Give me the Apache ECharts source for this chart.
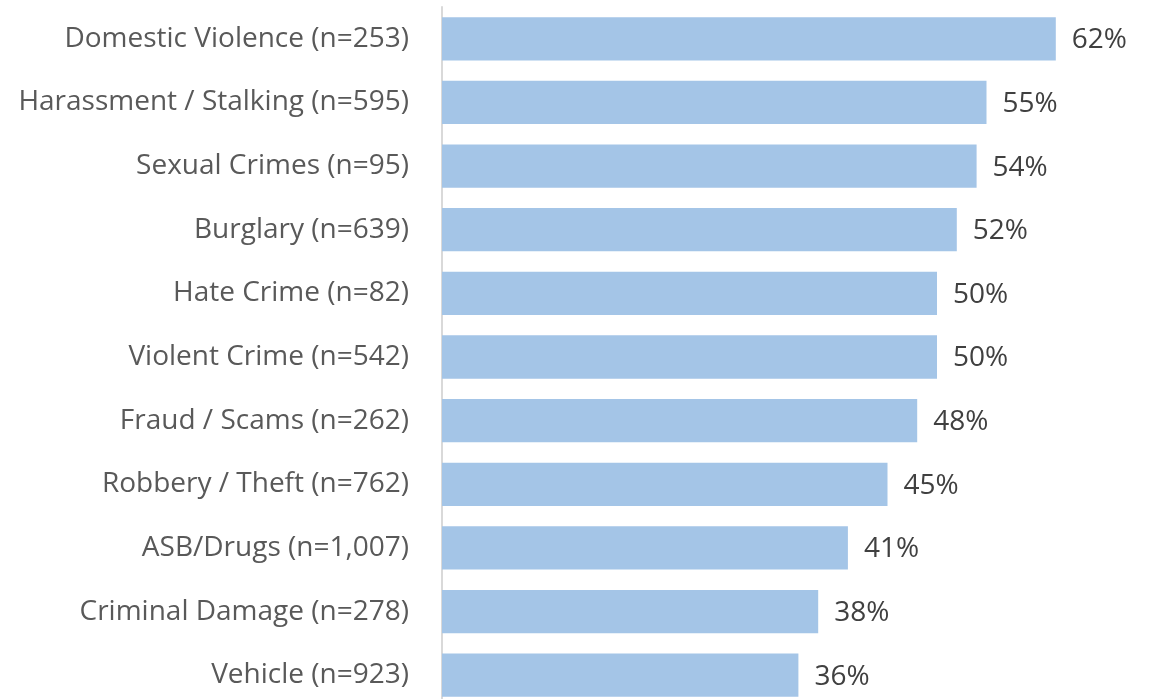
<!DOCTYPE html>
<html>
<head>
<meta charset="utf-8">
<script src="https://cdn.jsdelivr.net/npm/echarts@6/dist/echarts.min.js"></script>
<style>
  html, body { margin: 0; padding: 0; background: #ffffff; }
  #chart { width: 1156px; height: 699px; }
</style>
</head>
<body>
<div id="chart"></div>
<script>
// Crime categories, listed top to bottom
const categories = [
  'Domestic Violence (n=253)',
  'Harassment / Stalking (n=595)',
  'Sexual Crimes (n=95)',
  'Burglary (n=639)',
  'Hate Crime (n=82)',
  'Violent Crime (n=542)',
  'Fraud / Scams (n=262)',
  'Robbery / Theft (n=762)',
  'ASB/Drugs (n=1,007)',
  'Criminal Damage (n=278)',
  'Vehicle (n=923)'
];
// Percentage for each category
const values = [62, 55, 54, 52, 50, 50, 48, 45, 41, 38, 36];

const chart = echarts.init(document.getElementById('chart'), null, { renderer: 'canvas' });

chart.setOption({
  animation: false,
  backgroundColor: '#ffffff',
  grid: { left: 442, right: 21, top: 7, height: 700, outerBoundsMode: 'none' },
  xAxis: {
    type: 'value',
    min: 0,
    max: 70,
    show: false
  },
  yAxis: {
    type: 'category',
    data: categories,
    inverse: true,
    axisLine: { show: true, lineStyle: { color: '#d9d9d9', width: 2 } },
    axisTick: { show: false },
    splitLine: { show: false },
    axisLabel: {
      margin: 33,
      color: '#595959',
      fontFamily: 'Open Sans',
      fontSize: 28
    }
  },
  series: [{
    type: 'bar',
    data: values,
    barCategoryGap: '32%',
    itemStyle: { color: '#a4c5e7' },
    label: {
      show: true,
      position: 'right',
      distance: 16,
      offset: [0, 1.5],
      formatter: '{c}%',
      color: '#404040',
      fontFamily: 'Open Sans',
      fontSize: 28
    }
  }]
});
</script>
</body>
</html>
